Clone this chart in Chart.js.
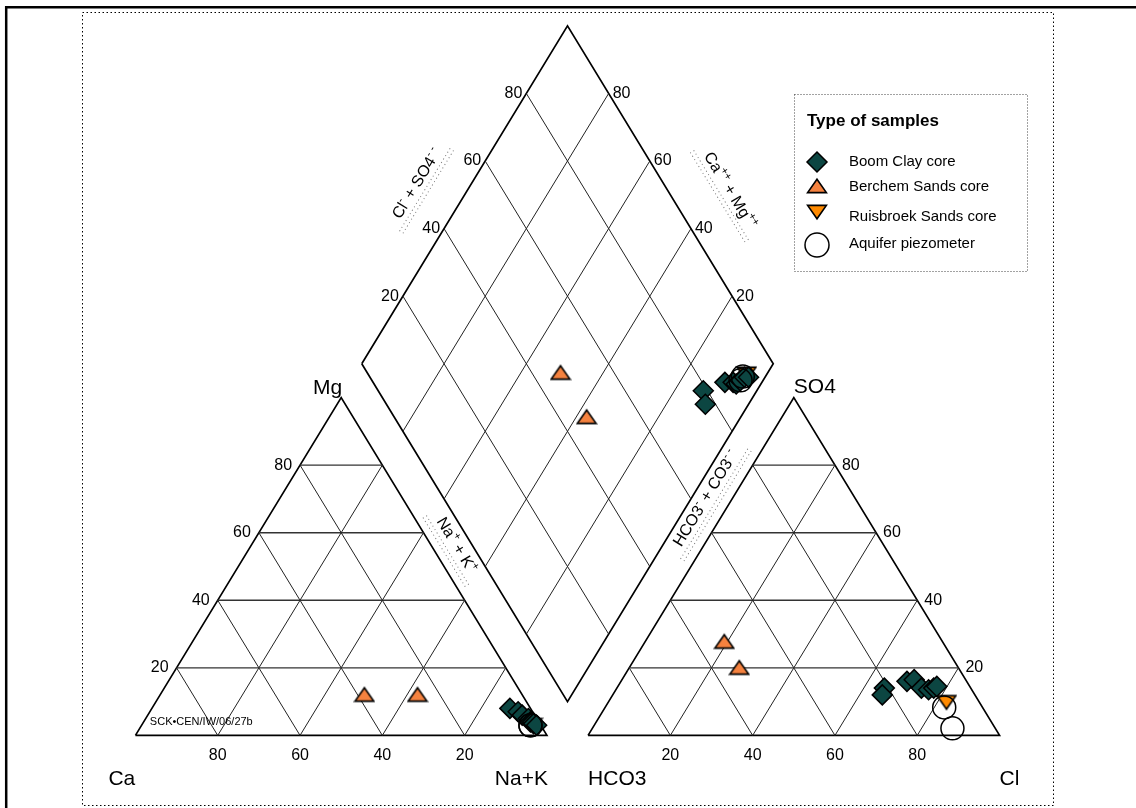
<!DOCTYPE html>
<html lang="en">
<head>
<meta charset="UTF-8">
<title>Piper diagram</title>
<script src="https://cdn.jsdelivr.net/npm/chart.js@4"></script>
<style>
  html, body { margin: 0; padding: 0; background: #fff; }
  canvas { display: block; }
</style>
</head>
<body>
<canvas id="piper" width="1136" height="808"></canvas>
<script>
// grid / tick values (percent)
const ticks = [20, 40, 60, 80];

// Boom Clay core : cations (Ca, Mg, Na+K) and anions (HCO3, SO4, Cl) in %
const boomCa   = [5, 3.5, 3, 2, 2, 1.5, 1.5, 1];
const boomMg   = [8, 7, 6, 5, 4, 4, 3.5, 3];
const boomNaK  = [87, 89.5, 91, 93, 94, 94.5, 95, 96];
const boomHCO3 = [21, 22.5, 14.5, 12.5, 12, 10.5, 9, 8];
const boomSO4  = [14, 12, 16, 16.5, 14, 13.5, 14, 14.5];
const boomCl   = [65, 65.5, 69.5, 71, 74, 76, 77, 77.5];

// Berchem Sands core
const berCa   = [38.3, 25.4];
const berMg   = [12.1, 12.1];
const berNaK  = [49.6, 62.5];
const berHCO3 = [53, 53.2];
const berSO4  = [27.8, 20.1];
const berCl   = [19.2, 26.7];

// Ruisbroek Sands core
const ruiCa   = [2];
const ruiMg   = [3];
const ruiNaK  = [95];
const ruiHCO3 = [8];
const ruiSO4  = [9.8];
const ruiCl   = [82.2];

// Aquifer piezometer
const aqCa   = [2.5, 2.5];
const aqMg   = [3, 3];
const aqNaK  = [94.5, 94.5];
const aqHCO3 = [9.3, 10.4];
const aqSO4  = [8.3, 2.1];
const aqCl   = [82.4, 87.5];

// ternary -> chart units (triangle base = 100, height = 100, gap = 10)
function cat(ca, mg, nak) { return { x: nak + mg / 2, y: mg }; }
function an(hco3, so4, cl) { return { x: 110 + cl + so4 / 2, y: so4 }; }
function dia(nak, clso4) { return { x: 55 + (nak + clso4) / 2, y: 110 - nak + clso4 }; }

function samples(ca, mg, nak, hco3, so4, cl) {
  const pts = [];
  for (let i = 0; i < ca.length; i++) {
    pts.push(cat(ca[i], mg[i], nak[i]));
    pts.push(an(hco3[i], so4[i], cl[i]));
    pts.push(dia(nak[i], so4[i] + cl[i]));
  }
  return pts;
}

function seg(pts, width, color) {
  return { type: 'scatter', data: pts, showLine: true, pointRadius: 0, borderColor: color,
           borderWidth: width, order: 100, clip: false, borderJoinStyle: 'miter' };
}

function triImage(fill, up) {
  const c = document.createElement('canvas');
  c.width = 22; c.height = 18;
  const g = c.getContext('2d');
  g.beginPath();
  if (up) { g.moveTo(11, 2.2); g.lineTo(20.4, 15.6); g.lineTo(1.6, 15.6); }
  else { g.moveTo(1.6, 2.4); g.lineTo(20.4, 2.4); g.lineTo(11, 15.8); }
  g.closePath();
  g.fillStyle = fill; g.fill();
  g.lineWidth = 1.6; g.strokeStyle = '#000'; g.lineJoin = 'miter'; g.stroke();
  return c;
}

const green = '#0c4642';
const triUp = triImage('#f5823f', true);
const triDown = triImage('#ff8a00', false);

// grid lines
const lines = [];
ticks.forEach(t => {
  lines.push(seg([cat(100 - t, t, 0), cat(0, t, 100 - t)], 1.4, '#333'));
  lines.push(seg([cat(t, 100 - t, 0), cat(t, 0, 100 - t)], 1, '#222'));
  lines.push(seg([cat(0, 100 - t, t), cat(100 - t, 0, t)], 1, '#222'));
  lines.push(seg([an(100 - t, t, 0), an(0, t, 100 - t)], 1.4, '#333'));
  lines.push(seg([an(t, 100 - t, 0), an(t, 0, 100 - t)], 1, '#222'));
  lines.push(seg([an(100 - t, 0, t), an(0, 100 - t, t)], 1, '#222'));
  lines.push(seg([dia(t, 0), dia(t, 100)], 1, '#222'));
  lines.push(seg([dia(0, t), dia(100, t)], 1, '#222'));
});
lines.push(seg([cat(100, 0, 0), cat(0, 0, 100), cat(0, 100, 0), cat(100, 0, 0)], 1.7, '#000'));
lines.push(seg([an(100, 0, 0), an(0, 0, 100), an(0, 100, 0), an(100, 0, 0)], 1.7, '#000'));
lines.push(seg([dia(0, 0), dia(100, 0), dia(100, 100), dia(0, 100), dia(0, 0)], 1.7, '#000'));

const fontFam = '"Liberation Sans", Arial, sans-serif';

function drawRich(ctx, parts, size) {
  const sup = Math.round(size * 0.68);
  let total = 0;
  parts.forEach(p => { ctx.font = (p[1] ? sup : size) + 'px ' + fontFam; total += ctx.measureText(p[0]).width; });
  let x = -total / 2;
  ctx.textAlign = 'left';
  ctx.textBaseline = 'alphabetic';
  parts.forEach(p => {
    ctx.font = (p[1] ? sup : size) + 'px ' + fontFam;
    ctx.fillText(p[0], x, p[1] ? size * 0.35 - size * 0.42 : size * 0.35);
    x += ctx.measureText(p[0]).width;
  });
  return total;
}

const titles = [
  { at: { x: 68.2, y: 163.5 }, ang: -58.6, parts: [['Cl', 0], ['-', 1], [' + SO4', 0], ['- -', 1]] },
  { at: { x: 144.7, y: 161.4 }, ang: 58.6, parts: [['Ca', 0], ['++', 1], [' + Mg', 0], ['++', 1]] },
  { at: { x: 78.2, y: 56.4 }, ang: 58.6, parts: [['Na', 0], ['+', 1], [' + K', 0], ['+', 1]] },
  { at: { x: 138.4, y: 70.3 }, ang: -58.6, parts: [['HCO3', 0], ['-', 1], [' + CO3', 0], ['- -', 1]] }
];

const piperLabels = {
  id: 'piperLabels',
  beforeDraw(chart) {
    const ctx = chart.ctx;
    ctx.save();
    ctx.fillStyle = '#fff';
    ctx.fillRect(0, 0, chart.width, chart.height);
    // page frame
    ctx.strokeStyle = '#000';
    ctx.lineWidth = 2.5;
    ctx.beginPath();
    ctx.moveTo(6.2, chart.height); ctx.lineTo(6.2, 7.2); ctx.lineTo(chart.width, 7.2);
    ctx.stroke();
    // dotted plot frame
    ctx.lineWidth = 1;
    ctx.setLineDash([1.5, 2.5]);
    ctx.strokeRect(82.5, 12.5, 971, 793);
    ctx.restore();
  },
  afterDraw(chart) {
    const ctx = chart.ctx;
    const sx = chart.scales.x, sy = chart.scales.y;
    const px = p => ({ x: sx.getPixelForValue(p.x), y: sy.getPixelForValue(p.y) });
    ctx.save();
    ctx.fillStyle = '#000';

    // tick labels
    ctx.font = '16px ' + fontFam;
    ctx.textBaseline = 'middle';
    ticks.forEach(t => {
      let p = px(cat(t, 0, 100 - t));
      ctx.textAlign = 'center'; ctx.fillText(String(t), p.x, p.y + 20);
      p = px(cat(100 - t, t, 0));
      ctx.textAlign = 'right'; ctx.fillText(String(t), p.x - 8, p.y);
      p = px(an(100 - t, 0, t));
      ctx.textAlign = 'center'; ctx.fillText(String(t), p.x, p.y + 20);
      p = px(an(0, t, 100 - t));
      ctx.textAlign = 'left'; ctx.fillText(String(t), p.x + 7, p.y);
      p = px(dia(0, t));
      ctx.textAlign = 'right'; ctx.fillText(String(t), p.x - 4, p.y);
      p = px(dia(100 - t, 100));
      ctx.textAlign = 'left'; ctx.fillText(String(t), p.x + 4, p.y);
    });

    // corner labels
    ctx.font = '21px ' + fontFam;
    const corner = (txt, pt, align, dx, dy) => {
      const p = px(pt);
      ctx.textAlign = align;
      ctx.fillText(txt, p.x + dx, p.y + dy);
    };
    corner('Ca', cat(100, 0, 0), 'left', -27, 44);
    corner('Na+K', cat(0, 0, 100), 'right', 1, 44);
    corner('Mg', cat(0, 100, 0), 'right', 1, -9);
    corner('HCO3', an(100, 0, 0), 'left', 0, 44);
    corner('Cl', an(0, 0, 100), 'left', 0, 44);
    corner('SO4', an(0, 100, 0), 'left', 0, -10);

    // axis titles along the diamond
    titles.forEach(tt => {
      const p = px(tt.at);
      ctx.save();
      ctx.translate(p.x, p.y);
      ctx.rotate(tt.ang * Math.PI / 180);
      ctx.fillStyle = '#000';
      const w = drawRich(ctx, tt.parts, 16);
      ctx.strokeStyle = '#777';
      ctx.lineWidth = 1;
      ctx.setLineDash([1, 3]);
      [11, 15].forEach(off => {
        ctx.beginPath();
        ctx.moveTo(-w / 2 - 10, off); ctx.lineTo(w / 2 + 10, off);
        ctx.stroke();
      });
      ctx.restore();
    });

    // reference code
    ctx.font = '11px ' + fontFam;
    ctx.textAlign = 'left';
    ctx.textBaseline = 'middle';
    const rc = px({ x: 3.5, y: 4 });
    ctx.fillText('SCK\u2022CEN/IW/06/27b', rc.x, rc.y);

    // legend
    const lx = 794.5, ly = 94.5, lw = 233, lh = 177;
    ctx.strokeStyle = '#444';
    ctx.lineWidth = 1;
    ctx.setLineDash([1, 2]);
    ctx.strokeRect(lx, ly, lw, lh);
    ctx.setLineDash([]);
    ctx.font = 'bold 17px ' + fontFam;
    ctx.textAlign = 'left';
    ctx.fillText('Type of samples', 807, 121);
    ctx.font = '15px ' + fontFam;
    const mx = 817, tx = 849;
    const rows = [
      { y: 162, label: 'Boom Clay core' },
      { y: 187, label: 'Berchem Sands core' },
      { y: 217, label: 'Ruisbroek Sands core' },
      { y: 244, label: 'Aquifer piezometer' }
    ];
    rows.forEach(r => { ctx.fillStyle = '#000'; ctx.fillText(r.label, tx, r.y); });
    // markers
    ctx.beginPath();
    ctx.moveTo(mx - 10, 162); ctx.lineTo(mx, 152); ctx.lineTo(mx + 10, 162); ctx.lineTo(mx, 172);
    ctx.closePath();
    ctx.fillStyle = green; ctx.fill();
    ctx.lineWidth = 1.5; ctx.strokeStyle = '#000'; ctx.stroke();
    ctx.drawImage(triUp, mx - triUp.width / 2, 186 - triUp.height / 2);
    ctx.drawImage(triDown, mx - triDown.width / 2, 212 - triDown.height / 2);
    ctx.beginPath();
    ctx.arc(mx, 245, 12, 0, Math.PI * 2);
    ctx.stroke();
    ctx.restore();
  }
};

const datasets = lines.concat([
  { type: 'scatter', label: 'Berchem Sands core', data: samples(berCa, berMg, berNaK, berHCO3, berSO4, berCl),
    pointStyle: triUp, pointRadius: 10, order: 40, clip: false },
  { type: 'scatter', label: 'Ruisbroek Sands core', data: samples(ruiCa, ruiMg, ruiNaK, ruiHCO3, ruiSO4, ruiCl),
    pointStyle: triDown, pointRadius: 10, order: 30, clip: false },
  { type: 'scatter', label: 'Boom Clay core', data: samples(boomCa, boomMg, boomNaK, boomHCO3, boomSO4, boomCl),
    pointStyle: 'rectRot', pointRadius: 10, pointBackgroundColor: green, pointBorderColor: '#000',
    pointBorderWidth: 1.5, order: 20, clip: false },
  { type: 'scatter', label: 'Aquifer piezometer', data: samples(aqCa, aqMg, aqNaK, aqHCO3, aqSO4, aqCl),
    pointStyle: 'circle', pointRadius: 11.5, pointBackgroundColor: 'rgba(0,0,0,0)', pointBorderColor: '#000',
    pointBorderWidth: 1.5, order: 10, clip: false }
]);

new Chart(document.getElementById('piper'), {
  type: 'scatter',
  data: { datasets: datasets },
  options: {
    responsive: false,
    animation: false,
    devicePixelRatio: 1,
    events: [],
    layout: { autoPadding: false, padding: { left: 12, right: 13, top: 9, bottom: 5 } },
    scales: {
      x: { type: 'linear', min: -30, max: 240, display: false },
      y: { type: 'linear', min: -20, max: 215, display: false }
    },
    plugins: { legend: { display: false }, tooltip: { enabled: false } }
  },
  plugins: [piperLabels]
});
</script>
</body>
</html>
